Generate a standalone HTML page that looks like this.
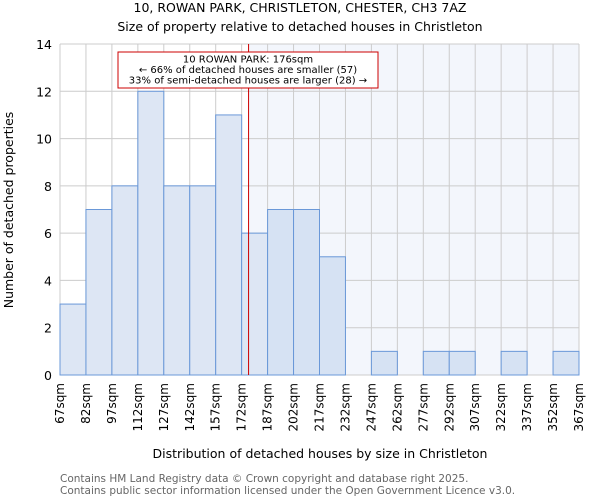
<!DOCTYPE html>
<html><head><meta charset="utf-8"><style>
body{margin:0;background:#fff;font-family:"DejaVu Sans","Liberation Sans",sans-serif;}
</style></head><body>
<svg id="chart" width="600" height="500" xmlns="http://www.w3.org/2000/svg" font-family="DejaVu Sans, Liberation Sans, sans-serif">
<text x="300" y="12" text-anchor="middle" font-size="12.5">10, ROWAN PARK, CHRISTLETON, CHESTER, CH3 7AZ</text>
<text x="300" y="31" text-anchor="middle" font-size="12.5">Size of property relative to detached houses in Christleton</text>
<g id="plot"></g>
<text x="320" y="458" text-anchor="middle" font-size="12.5">Distribution of detached houses by size in Christleton</text>
<text transform="translate(13,210) rotate(-90)" text-anchor="middle" font-size="12.5">Number of detached properties</text>
<text x="60" y="482" font-size="10.5" fill="#666">Contains HM Land Registry data © Crown copyright and database right 2025.</text>
<text x="60" y="494" font-size="10.5" fill="#666">Contains public sector information licensed under the Open Government Licence v3.0.</text>
</svg>
<script>
const binStarts=[67,82,97,112,127,142,157,172,187,202,217,232,247,262,277,292,307,322,337,352];
const counts=[3,7,8,12,8,8,11,6,7,7,5,0,1,0,1,1,0,1,0,1];
const tickLabels=["67sqm","82sqm","97sqm","112sqm","127sqm","142sqm","157sqm","172sqm","187sqm","202sqm","217sqm","232sqm","247sqm","262sqm","277sqm","292sqm","307sqm","322sqm","337sqm","352sqm","367sqm"];
const yTicks=[0,2,4,6,8,10,12,14];
const propertySize=176;
const binWidth=15;
const NS="http://www.w3.org/2000/svg";
const X0=60,X1=579,Y0=375,Y1=44,xMin=67,xMax=367,yMax=14;
const x=v=>X0+(v-xMin)/(xMax-xMin)*(X1-X0);
const y=v=>Y0-v/yMax*(Y0-Y1);
const g=document.getElementById('plot');
function mk(t,a){const e=document.createElementNS(NS,t);for(const k in a)e.setAttribute(k,a[k]);g.appendChild(e);return e;}
const px=x(propertySize);
let e=mk('rect',{x:px,y:Y1,width:X1-px,height:Y0-Y1,fill:'#f3f6fc'});


tickLabels.forEach((l,i)=>{const xv=xMin+i*binWidth;
 const gl=mk('line',{x1:x(xv),x2:x(xv),y1:Y1,y2:Y0,stroke:'#cccccc','stroke-width':1});
 
 
 const t=mk('text',{transform:`translate(${x(xv)+4},${Y0+8}) rotate(-90)`,'text-anchor':'end','font-size':'12'});
 t.textContent=l;
 
 
});
yTicks.forEach(v=>{
 const gl=mk('line',{x1:X0,x2:X1,y1:y(v),y2:y(v),stroke:'#cccccc','stroke-width':1});
 
 
 const t=mk('text',{x:X0-8,y:y(v)+5,'text-anchor':'end','font-size':'12.5'});
 t.textContent=v;
 
 
});
binStarts.forEach((b,i)=>{if(!counts[i])return;
 const r=mk('rect',{x:x(b),y:y(counts[i]),width:x(b+binWidth)-x(b),height:Y0-y(counts[i]),fill:b>=propertySize?'#d6e2f3':'#dde6f4',stroke:'#6a98d8','stroke-width':1});
 
 
});
e=mk('line',{x1:px,x2:px,y1:Y1,y2:Y0,stroke:'#cc0000','stroke-width':1});


e=mk('rect',{x:118,y:52,width:260,height:36,fill:'#fff',stroke:'#cc0000','stroke-width':1});


["10 ROWAN PARK: 176sqm","← 66% of detached houses are smaller (57)","33% of semi-detached houses are larger (28) →"].forEach((s,i)=>{
 const t=mk('text',{x:248,y:62.5+i*10.5,'text-anchor':'middle','font-size':'10'});
 t.textContent=s;
 
 
});
</script>
</body></html>
